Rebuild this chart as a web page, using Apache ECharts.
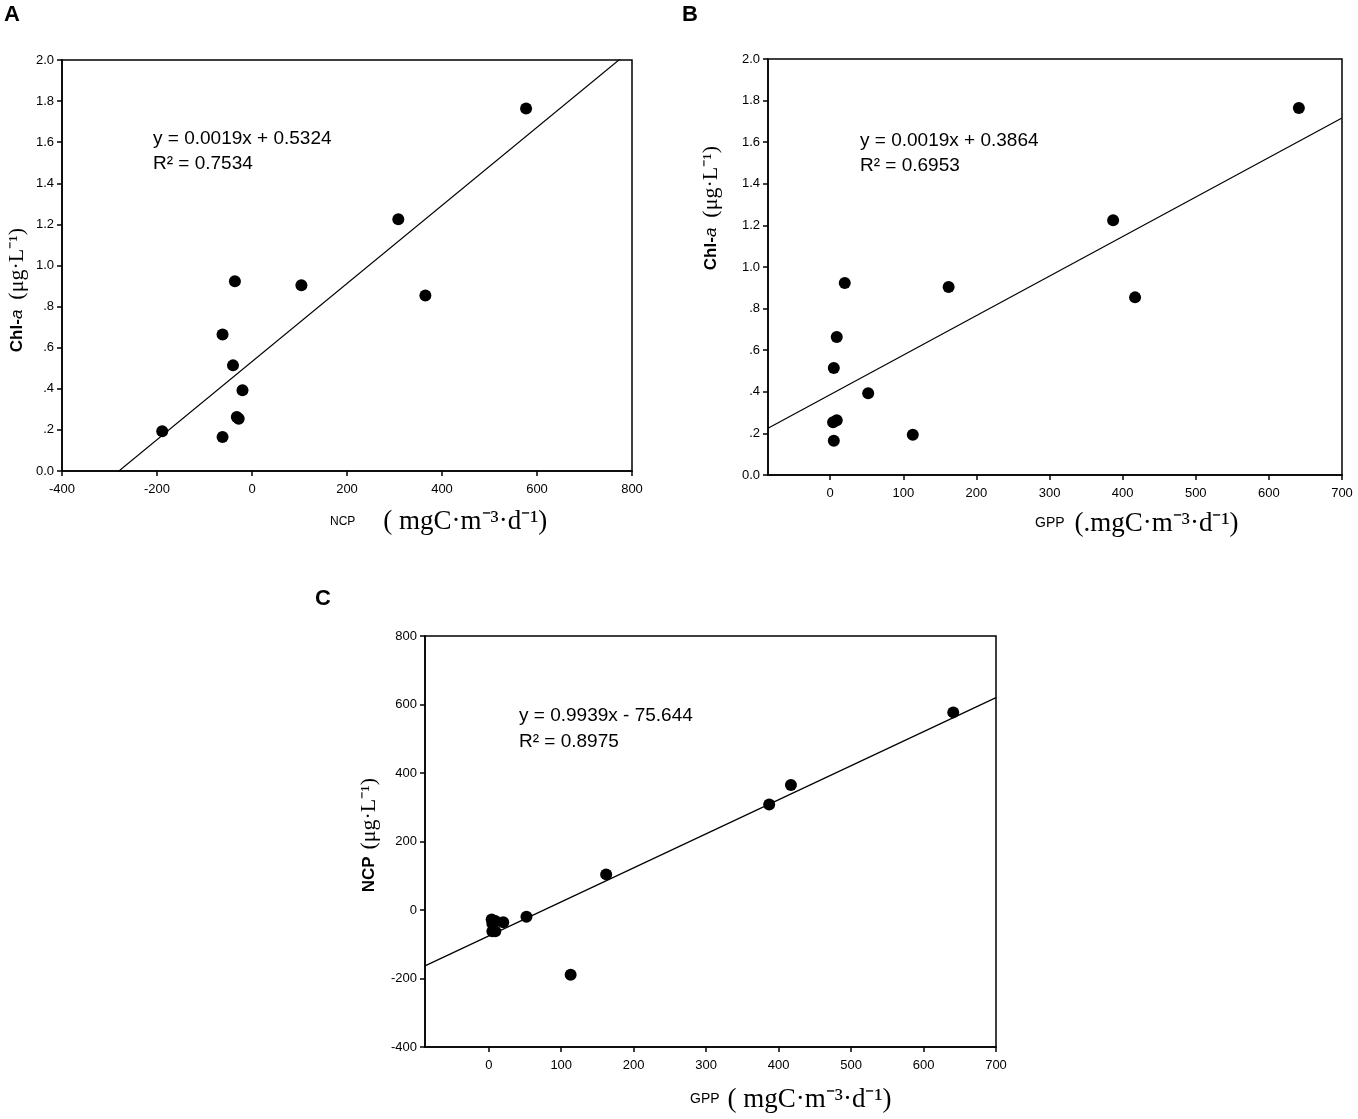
<!DOCTYPE html>
<html>
<head>
<meta charset="utf-8">
<script src="https://cdn.jsdelivr.net/npm/echarts@6/dist/echarts.min.js"></script>
<style>
  html, body { margin: 0; padding: 0; background: #fff; }
  #chart { width: 1358px; height: 1119px; }
</style>
</head>
<body>
<div id="chart"></div>
<script>
// sample values (same 12 stations in every panel)
var gpp = [641, 387, 417, 162, 20, 9, 5, 52, 9, 113, 5, 4];
var ncp = [577, 308, 365, 104, -36, -62, -40, -20, -32, -189, -62, -28];
var chl = [1.764, 1.225, 0.854, 0.904, 0.923, 0.664, 0.514, 0.393, 0.263, 0.193, 0.165, 0.254];

// fitted lines as printed on the panels: A, B, C
var fitSlope = [0.0019, 0.0019, 0.9939];
var fitIntercept = [0.5324, 0.3864, -75.644];
var eqText = ['y = 0.0019x + 0.5324', 'y = 0.0019x + 0.3864', 'y = 0.9939x - 75.644'];
var r2Text = ['R\u00b2 = 0.7534', 'R\u00b2 = 0.6953', 'R\u00b2 = 0.8975'];

var gppTicks = [0, 100, 200, 300, 400, 500, 600, 700];

var chart = echarts.init(document.getElementById('chart'));

var tickFont = { color: '#000', fontFamily: 'Liberation Sans Narrow, Arial Narrow, Liberation Sans, sans-serif', fontSize: 13 };
var axisLine = { show: true, onZero: false, lineStyle: { color: '#000', width: 1.5 } };
var axisTick = { show: true, inside: false, length: 5, lineStyle: { color: '#000', width: 1.5 } };

function chlLabel(v) {
  var s = v.toFixed(1);
  if (v > 0 && v < 1) s = s.substring(1);
  return s;
}

function pairs(xs, ys) {
  return xs.map(function (x, i) { return [x, ys[i]]; });
}

function fitLine(k, xMin, xMax) {
  return [[xMin, fitSlope[k] * xMin + fitIntercept[k]], [xMax, fitSlope[k] * xMax + fitIntercept[k]]];
}

var grids = [
  { left: 62, top: 60, width: 570, height: 411 },
  { left: 768, top: 59, width: 574, height: 416 },
  { left: 425, top: 636, width: 571, height: 411 }
];
grids.forEach(function (g) { g.show = true; g.borderColor = '#000'; g.borderWidth = 1.5; });

var xAxes = [
  { gridIndex: 0, type: 'value', min: -400, max: 800, interval: 200 },
  { gridIndex: 1, type: 'value', min: -85, max: 700,
    axisTick: Object.assign({ customValues: gppTicks }, axisTick),
    axisLabel: Object.assign({ customValues: gppTicks, margin: 12 }, tickFont) },
  { gridIndex: 2, type: 'value', min: -88, max: 700,
    axisTick: Object.assign({ customValues: gppTicks }, axisTick),
    axisLabel: Object.assign({ customValues: gppTicks, margin: 12 }, tickFont) }
];
xAxes.forEach(function (a) {
  a.axisLine = axisLine;
  a.splitLine = { show: false };
  if (!a.axisTick) a.axisTick = axisTick;
  if (!a.axisLabel) a.axisLabel = Object.assign({ margin: 12 }, tickFont);
});

var yAxes = [
  { gridIndex: 0, type: 'value', min: 0, max: 2, interval: 0.2, axisLabel: Object.assign({ formatter: chlLabel, margin: 8 }, tickFont) },
  { gridIndex: 1, type: 'value', min: 0, max: 2, interval: 0.2, axisLabel: Object.assign({ formatter: chlLabel, margin: 8 }, tickFont) },
  { gridIndex: 2, type: 'value', min: -400, max: 800, interval: 200, axisLabel: Object.assign({ margin: 8 }, tickFont) }
];
yAxes.forEach(function (a) {
  a.axisLine = axisLine;
  a.axisTick = axisTick;
  a.splitLine = { show: false };
});

var dot = { color: '#000', opacity: 1 };
var fitStyle = { color: '#000', width: 1.2 };

var series = [
  { type: 'scatter', xAxisIndex: 0, yAxisIndex: 0, data: pairs(ncp, chl), symbolSize: 12, itemStyle: dot },
  { type: 'line', xAxisIndex: 0, yAxisIndex: 0, data: fitLine(0, -400, 800), showSymbol: false, lineStyle: fitStyle, clip: true },
  { type: 'scatter', xAxisIndex: 1, yAxisIndex: 1, data: pairs(gpp, chl), symbolSize: 12, itemStyle: dot },
  { type: 'line', xAxisIndex: 1, yAxisIndex: 1, data: fitLine(1, -85, 700), showSymbol: false, lineStyle: fitStyle, clip: true },
  { type: 'scatter', xAxisIndex: 2, yAxisIndex: 2, data: pairs(gpp, ncp), symbolSize: 12, itemStyle: dot },
  { type: 'line', xAxisIndex: 2, yAxisIndex: 2, data: fitLine(2, -88, 700), showSymbol: false, lineStyle: fitStyle, clip: true }
];

var sansFont = 'Liberation Sans, Arial, sans-serif';
var serifFont = 'Liberation Serif, Times New Roman, serif';

function eq(x, y, t) {
  return { type: 'text', x: x, y: y, style: { text: t, font: '19px ' + sansFont, fill: '#000' } };
}
function panelLetter(x, y, t) {
  return { type: 'text', x: x, y: y, style: { text: t, font: 'bold 22px ' + sansFont, fill: '#000' } };
}
function xTitle(x, y, name, nameSize, gap, unit) {
  return {
    type: 'text', x: x, y: y,
    style: {
      text: '{n|' + name + '}{u|' + unit + '}',
      rich: {
        n: { fontFamily: sansFont, fontSize: nameSize, fill: '#000', color: '#000', padding: [0, gap, 0, 0] },
        u: { fontFamily: serifFont, fontSize: 27, fill: '#000', color: '#000' }
      }
    }
  };
}
function yTitle(x, y, parts) {
  return {
    type: 'text', x: x, y: y, rotation: Math.PI / 2,
    style: {
      text: parts,
      align: 'center', verticalAlign: 'middle',
      rich: {
        s: { fontFamily: sansFont, fontSize: 17, fontWeight: 'bold', fill: '#000', color: '#000' },
        i: { fontFamily: sansFont, fontSize: 17, fontStyle: 'italic', fill: '#000', color: '#000' },
        u: { fontFamily: serifFont, fontSize: 22, fill: '#000', color: '#000' }
      }
    }
  };
}

var graphics = [
  panelLetter(4, 4, 'A'),
  panelLetter(682, 4, 'B'),
  panelLetter(315, 588, 'C'),
  eq(153, 129, eqText[0]), eq(153, 154, r2Text[0]),
  eq(860, 131, eqText[1]), eq(860, 156, r2Text[1]),
  eq(519, 706, eqText[2]), eq(519, 732, r2Text[2]),
  xTitle(330, 508, 'NCP', 12, 28, '( mgC\u00b7m\u207b\u00b3\u00b7d\u207b\u00b9)'),
  xTitle(1035, 510, 'GPP', 14, 10, '(.mgC\u00b7m\u207b\u00b3\u00b7d\u207b\u00b9)'),
  xTitle(690, 1086, 'GPP', 14, 8, '( mgC\u00b7m\u207b\u00b3\u00b7d\u207b\u00b9)'),
  yTitle(17, 290, '{s|Chl-}{i|a}   {u|(\u03bcg\u00b7L\u207b\u00b9)}'),
  yTitle(711, 208, '{s|Chl-}{i|a}   {u|(\u03bcg\u00b7L\u207b\u00b9)}'),
  yTitle(369, 835, '{s|NCP}  {u|(\u03bcg\u00b7L\u207b\u00b9)}')
];

chart.setOption({
  animation: false,
  backgroundColor: '#fff',
  grid: grids,
  xAxis: xAxes,
  yAxis: yAxes,
  series: series,
  graphic: graphics
});
</script>
</body>
</html>
